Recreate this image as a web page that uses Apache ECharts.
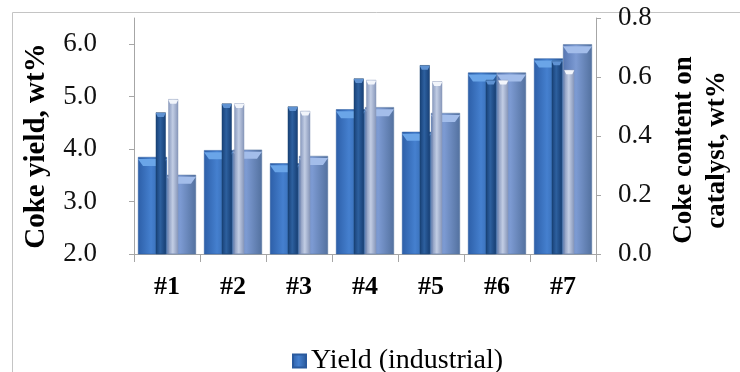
<!DOCTYPE html>
<html>
<head>
<meta charset="utf-8">
<script src="https://cdn.jsdelivr.net/npm/echarts@6/dist/echarts.min.js"></script>
<style>
  html, body { margin: 0; padding: 0; background: #ffffff; }
  #chart { width: 740px; height: 372px; }
</style>
</head>
<body>
<div id="chart"></div>
<script>
// Samples and values
const categories = ['#1', '#2', '#3', '#4', '#5', '#6', '#7'];
const yieldIndustrial = [3.85, 3.98, 3.73, 4.76, 4.33, 5.46, 5.73];   // wt%, left axis
const yieldModel = [3.51, 3.99, 3.87, 4.80, 4.69, 5.46, 6.00];        // wt%, left axis
const cokeIndustrial = [0.48, 0.51, 0.50, 0.595, 0.64, 0.59, 0.655];  // wt%, right axis
const cokeModel = [0.525, 0.51, 0.485, 0.59, 0.585, 0.59, 0.625];     // wt%, right axis
const leftTicks = { min: 2, max: 6.5, interval: 1 };
const rightTicks = { min: 0, max: 0.8, interval: 0.2 };

const SERIF = "'Liberation Serif', 'Times New Roman', 'DejaVu Serif', serif";
const AXIS_GRAY = '#a6a6a6';

// bar widths (px) and the horizontal offsets of each bar from its category centre
const WIDE = 29, NARROW = 10;
const WIDE_OFF = WIDE / 2, NARROW_OFF = NARROW / 2 + 1.25;

// Horizontal gradient giving the bars a rounded look
function bevel(edge, mid, edge2) {
  return new echarts.graphic.LinearGradient(0, 0, 1, 0, [
    { offset: 0, color: edge },
    { offset: 0.45, color: mid },
    { offset: 1, color: edge2 || edge }
  ]);
}

// bevelled cap drawn just inside the top end of each bar
function capSeries(name, data, xi, yi, w, h, inset, dx, fill, z) {
  return {
    name: name, type: 'pictorialBar',
    xAxisIndex: xi, yAxisIndex: yi,
    data: data,
    silent: true,
    z: z,
    symbol: 'path://M0,0 L' + w + ',0 L' + (w - inset) + ',' + h + ' L' + inset + ',' + h + ' Z',
    symbolSize: [w, h],
    symbolPosition: 'end',
    symbolOffset: [dx, h / 2 - 1.5],
    itemStyle: { color: fill }
  };
}

const chart = echarts.init(document.getElementById('chart'), null, { renderer: 'canvas' });

const catAxisBase = { type: 'category', data: categories, boundaryGap: true };

chart.setOption({
  animation: false,
  backgroundColor: '#ffffff',
  grid: { left: 134, right: 144, top: 18, bottom: 118, containLabel: false },
  legend: {
    data: ['Yield (industrial)'],
    left: 287,
    top: 342,
    icon: 'rect',
    itemWidth: 13,
    itemHeight: 13,
    textStyle: { fontFamily: SERIF, fontSize: 28, color: '#000' }
  },
  xAxis: [
    Object.assign({}, catAxisBase, {
      position: 'bottom',
      axisLine: { lineStyle: { color: AXIS_GRAY, width: 1 } },
      axisTick: { show: true, length: 8, alignWithLabel: false, lineStyle: { color: AXIS_GRAY } },
      axisLabel: { margin: 20, fontFamily: SERIF, fontSize: 26, fontWeight: 'bold', color: '#000' },
      splitLine: { show: false }
    }),
    Object.assign({}, catAxisBase, { show: false })
  ],
  yAxis: [
    {
      type: 'value',
      position: 'left',
      min: leftTicks.min,
      max: leftTicks.max,
      interval: leftTicks.interval,
      axisLine: { show: true, lineStyle: { color: AXIS_GRAY, width: 1 } },
      axisTick: { show: true, length: 5, lineStyle: { color: AXIS_GRAY } },
      axisLabel: {
        margin: 37, showMaxLabel: false,
        fontFamily: SERIF, fontSize: 27, color: '#111',
        formatter: v => v.toFixed(1)
      },
      splitLine: { show: false }
    },
    {
      type: 'value',
      position: 'right',
      min: rightTicks.min,
      max: rightTicks.max,
      interval: rightTicks.interval,
      axisLine: { show: true, lineStyle: { color: AXIS_GRAY, width: 1 } },
      axisTick: { show: true, length: 5, lineStyle: { color: AXIS_GRAY } },
      axisLabel: {
        margin: 22,
        fontFamily: SERIF, fontSize: 27, color: '#111',
        formatter: v => v.toFixed(1)
      },
      splitLine: { show: false }
    }
  ],
  graphic: [
    {
      type: 'rect', silent: true, z: -10,
      shape: { x: 12.5, y: 12.5, width: 900, height: 500 },
      style: { fill: 'none', stroke: '#c4c4c4', lineWidth: 1 }
    },
    {
      type: 'text', x: 37, y: 146, rotation: Math.PI / 2,
      style: {
        text: 'Coke yield, wt%',
        font: "bold 29px " + SERIF, fill: '#000',
        align: 'center', verticalAlign: 'middle',
        textAlign: 'center', textVerticalAlign: 'middle'
      }
    },
    {
      type: 'text', x: 701, y: 150, rotation: Math.PI / 2,
      style: {
        text: 'Coke content on\ncatalyst, wt%',
        font: "bold 27px " + SERIF, fill: '#000', lineHeight: 33,
        align: 'center', verticalAlign: 'middle',
        textAlign: 'center', textVerticalAlign: 'middle'
      }
    }
  ],
  series: [
    {
      name: 'Yield (industrial)', type: 'bar', z: 2,
      xAxisIndex: 0, yAxisIndex: 0,
      data: yieldIndustrial,
      barWidth: WIDE, barGap: '0%',
      itemStyle: { color: bevel('#2d5fa8', '#4580cf', '#285796'), borderColor: '#2a5a9e', borderWidth: 0.5 }
    },
    {
      name: 'Yield (model)', type: 'bar', z: 2,
      xAxisIndex: 0, yAxisIndex: 0,
      data: yieldModel,
      barWidth: WIDE, barGap: '0%',
      itemStyle: { color: bevel('#5676b2', '#7d9bd3', '#53719f'), borderColor: '#56759f', borderWidth: 0.5 }
    },
    capSeries('yield-ind-cap', yieldIndustrial, 0, 0, WIDE, 7, 5, -WIDE_OFF, '#6aa5e8', 3),
    capSeries('yield-model-cap', yieldModel, 0, 0, WIDE, 7, 5, WIDE_OFF, '#a3bdea', 3),
    {
      name: 'Coke content (industrial)', type: 'bar', z: 4,
      xAxisIndex: 1, yAxisIndex: 1,
      data: cokeIndustrial,
      barWidth: NARROW, barGap: '25%',
      itemStyle: { color: bevel('#173f75', '#2d609f', '#173f75'), borderColor: '#1a406f', borderWidth: 0.5 }
    },
    {
      name: 'Coke content (model)', type: 'bar', z: 4,
      xAxisIndex: 1, yAxisIndex: 1,
      data: cokeModel,
      barWidth: NARROW, barGap: '25%',
      itemStyle: { color: bevel('#8798bd', '#c2cde4', '#8595b8'), borderColor: '#8a98b8', borderWidth: 0.5 }
    },
    capSeries('coke-ind-cap', cokeIndustrial, 1, 1, NARROW, 4, 2, -NARROW_OFF, '#5f92d2', 5),
    capSeries('coke-model-cap', cokeModel, 1, 1, NARROW, 4, 2, NARROW_OFF, '#f2f5fb', 5)
  ]
});
</script>
</body>
</html>
